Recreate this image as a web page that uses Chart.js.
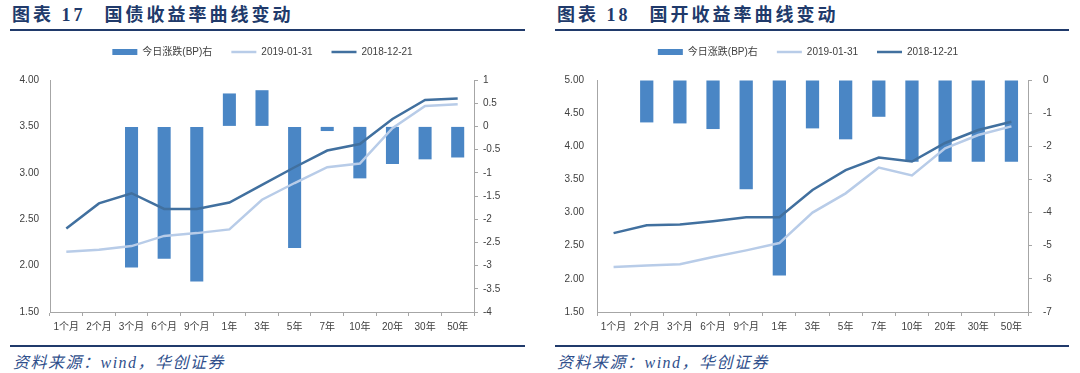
<!DOCTYPE html>
<html>
<head>
<meta charset="utf-8">
<script src="https://cdn.jsdelivr.net/npm/chart.js@4/dist/chart.umd.min.js"></script>
<style>
  html, body { margin: 0; padding: 0; background: #fff; }
  body { width: 1080px; height: 373px; position: relative; overflow: hidden; }
  .title { position: absolute; top: 4px; font: bold 18px/22px 'Liberation Serif', 'Noto Sans CJK SC', serif; color: #203A6B; letter-spacing: 3px; white-space: nowrap; }
  .title .t2 { margin-left: 19px; }
  .rule { position: absolute; height: 2px; background: #203A6B; }
  .foot { position: absolute; top: 353px; font: italic 16px/20px 'Liberation Serif', 'Noto Sans CJK SC', serif; color: #2F4F8C; letter-spacing: 1.5px; white-space: nowrap; }
  canvas { position: absolute; }
</style>
</head>
<body>
<div class="title" style="left:12px">图表 17<span class="t2">国债收益率曲线变动</span></div>
<div class="title" style="left:557px">图表 18<span class="t2">国开收益率曲线变动</span></div>
<div class="rule" style="left:10px; top:29px; width:515px"></div>
<div class="rule" style="left:555px; top:29px; width:514px"></div>
<div class="rule" style="left:10px; top:345px; width:515px"></div>
<div class="rule" style="left:555px; top:345px; width:514px"></div>
<div class="foot" style="left:13px">资料来源：wind，华创证券</div>
<div class="foot" style="left:557px">资料来源：wind，华创证券</div>
<canvas id="c1" width="525" height="312" style="left:0px; top:28px"></canvas>
<canvas id="c2" width="536" height="312" style="left:540px; top:28px"></canvas>
<script>
// ---- data ----
const categories = ['1个月','2个月','3个月','6个月','9个月','1年','3年','5年','7年','10年','20年','30年','50年'];
const seriesNames = ['今日涨跌(BP)右', '2019-01-31', '2018-12-21'];

// 图表17 国债
const gzChange   = [0, 0, -3.04, -2.85, -3.34, 0.71, 0.78, -2.62, -0.10, -1.12, -0.81, -0.71, -0.67];
const gz20190131 = [2.15, 2.17, 2.21, 2.32, 2.35, 2.39, 2.71, 2.89, 3.06, 3.10, 3.48, 3.72, 3.74];
const gz20181221 = [2.40, 2.67, 2.78, 2.61, 2.61, 2.68, 2.87, 3.06, 3.24, 3.31, 3.58, 3.785, 3.80];

// 图表18 国开
const gkChange   = [0, -1.28, -1.31, -1.48, -3.30, -5.90, -1.46, -1.79, -1.11, -2.47, -2.47, -2.47, -2.47];
const gk20190131 = [2.18, 2.20, 2.22, 2.33, 2.43, 2.54, 3.00, 3.29, 3.68, 3.56, 3.97, 4.17, 4.30];
const gk20181221 = [2.69, 2.81, 2.82, 2.87, 2.93, 2.93, 3.34, 3.64, 3.83, 3.77, 4.05, 4.245, 4.37];

// axis ranges
const gzLeftAxis  = { min: 1.5, max: 4.0, step: 0.5 };
const gzRightAxis = { min: -4, max: 1, step: 0.5 };
const gkLeftAxis  = { min: 1.5, max: 5.0, step: 0.5 };
const gkRightAxis = { min: -7, max: 0, step: 1 };

// ---- styling ----
const BAR = '#4A86C5', DARK = '#41709F', LIGHT = '#B8CCE8', AXIS = '#A6A6A6', TXT = '#404040';
const FONT = "'Liberation Sans', 'Noto Sans CJK SC', sans-serif";

const legendFitPlugin = {
  id: 'legendFit',
  beforeInit(chart, args, opts) {
    if (!chart.legend) return;
    const orig = chart.legend.fit;
    chart.legend.fit = function () { orig.call(this); this.height = opts.height; };
  }
};

function makeChart(id, bars, light, dark, la, ra, geo) {
  return new Chart(document.getElementById(id), {
    data: {
      labels: categories,
      datasets: [
        { type: 'bar', label: seriesNames[0], data: bars, yAxisID: 'y1', backgroundColor: BAR, borderWidth: 0,
          barPercentage: 0.4, categoryPercentage: 1, order: 3 },
        { type: 'line', label: seriesNames[1], data: light, yAxisID: 'y', borderColor: LIGHT, backgroundColor: LIGHT,
          borderWidth: 2.5, pointRadius: 0, tension: 0, order: 2 },
        { type: 'line', label: seriesNames[2], data: dark, yAxisID: 'y', borderColor: DARK, backgroundColor: DARK,
          borderWidth: 2.5, pointRadius: 0, tension: 0, order: 1 }
      ]
    },
    plugins: [legendFitPlugin],
    options: {
      responsive: false,
      animation: false,
      devicePixelRatio: 1,
      layout: { padding: 0 },
      plugins: {
        legendFit: { height: 52 },
        tooltip: { enabled: false },
        legend: {
          position: 'top',
          labels: {
            color: TXT, font: { family: FONT, size: 10 }, padding: 19,
            usePointStyle: true, pointStyleWidth: 25, boxWidth: 25, boxHeight: 6,
            sort: (a, b) => a.datasetIndex - b.datasetIndex,
            generateLabels(chart) {
              const items = Chart.defaults.plugins.legend.labels.generateLabels(chart);
              items.forEach(it => {
                const ds = chart.data.datasets[it.datasetIndex];
                if (ds.type === 'bar') { it.pointStyle = 'rect'; it.lineWidth = 0; it.fillStyle = ds.backgroundColor; it.strokeStyle = ds.backgroundColor; }
                else { it.pointStyle = 'line'; it.lineWidth = 2.5; it.strokeStyle = ds.borderColor; it.fillStyle = ds.borderColor; }
              });
              return items;
            }
          }
        }
      },
      scales: {
        x: {
          type: 'category', offset: true,
          grid: { display: true, offset: true, drawOnChartArea: false, drawTicks: true, tickLength: 4, color: AXIS },
          border: { display: true, color: AXIS, width: 1 },
          ticks: { color: TXT, font: { family: FONT, size: 10 }, padding: 5, maxRotation: 0, autoSkip: false },
          afterFit(s) { s.height = 28; }
        },
        y: {
          type: 'linear', position: 'left', min: la.min, max: la.max,
          grid: { display: true, drawOnChartArea: false, drawTicks: false, color: AXIS },
          border: { display: true, color: AXIS, width: 1 },
          ticks: { stepSize: la.step, color: TXT, font: { family: FONT, size: 10 }, padding: geo.lpad,
                   callback: v => Number(v).toFixed(2) },
          afterFit(s) { s.width = geo.lw; }
        },
        y1: {
          type: 'linear', position: 'right', min: ra.min, max: ra.max,
          grid: { display: true, drawOnChartArea: false, drawTicks: true, tickLength: 4, color: AXIS },
          border: { display: true, color: AXIS, width: 1 },
          ticks: { stepSize: ra.step, color: TXT, font: { family: FONT, size: 10 }, padding: geo.rpad,
                   callback: v => String(Math.round(v * 100) / 100) },
          afterFit(s) { s.width = geo.rw; }
        }
      }
    }
  });
}

makeChart('c1', gzChange, gz20190131, gz20181221, gzLeftAxis, gzRightAxis, { lw: 50, rw: 51, lpad: 11, rpad: 5 });
makeChart('c2', gkChange, gk20190131, gk20181221, gkLeftAxis, gkRightAxis, { lw: 57, rw: 48, lpad: 13, rpad: 11 });
</script>
</body>
</html>
